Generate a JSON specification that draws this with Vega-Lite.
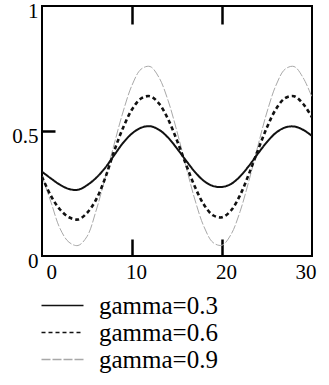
{
  "$schema": "https://vega.github.io/schema/vega-lite/v6.json",
  "autosize": "none",
  "width": 270,
  "height": 250,
  "padding": {"left": 42, "top": 6, "right": 17, "bottom": 129},
  "background": "white",
  "config": {
    "view": {"stroke": "black", "strokeWidth": 2},
    "axis": {
      "labelFont": "Liberation Serif, Times New Roman, serif",
      "labelFontSize": 21,
      "labelColor": "black",
      "domain": false,
      "grid": false,
      "tickColor": "#000000",
      "tickWidth": 2.5,
      "title": null
    }
  },
  "resolve": {"axis": {"x": "independent", "y": "independent"}},
  "data": {
    "values": [
      {"t": 0, "y": 0.337, "s": "gamma=0.3"},
      {"t": 1, "y": 0.31, "s": "gamma=0.3"},
      {"t": 2, "y": 0.285, "s": "gamma=0.3"},
      {"t": 3, "y": 0.268, "s": "gamma=0.3"},
      {"t": 4, "y": 0.265, "s": "gamma=0.3"},
      {"t": 5, "y": 0.283, "s": "gamma=0.3"},
      {"t": 6, "y": 0.312, "s": "gamma=0.3"},
      {"t": 7, "y": 0.352, "s": "gamma=0.3"},
      {"t": 8, "y": 0.402, "s": "gamma=0.3"},
      {"t": 9, "y": 0.452, "s": "gamma=0.3"},
      {"t": 10, "y": 0.49, "s": "gamma=0.3"},
      {"t": 11, "y": 0.513, "s": "gamma=0.3"},
      {"t": 12, "y": 0.519, "s": "gamma=0.3"},
      {"t": 13, "y": 0.505, "s": "gamma=0.3"},
      {"t": 14, "y": 0.474, "s": "gamma=0.3"},
      {"t": 15, "y": 0.43, "s": "gamma=0.3"},
      {"t": 16, "y": 0.382, "s": "gamma=0.3"},
      {"t": 17, "y": 0.336, "s": "gamma=0.3"},
      {"t": 18, "y": 0.3, "s": "gamma=0.3"},
      {"t": 19, "y": 0.28, "s": "gamma=0.3"},
      {"t": 20, "y": 0.276, "s": "gamma=0.3"},
      {"t": 21, "y": 0.288, "s": "gamma=0.3"},
      {"t": 22, "y": 0.318, "s": "gamma=0.3"},
      {"t": 23, "y": 0.361, "s": "gamma=0.3"},
      {"t": 24, "y": 0.41, "s": "gamma=0.3"},
      {"t": 25, "y": 0.456, "s": "gamma=0.3"},
      {"t": 26, "y": 0.493, "s": "gamma=0.3"},
      {"t": 27, "y": 0.514, "s": "gamma=0.3"},
      {"t": 28, "y": 0.518, "s": "gamma=0.3"},
      {"t": 29, "y": 0.505, "s": "gamma=0.3"},
      {"t": 30, "y": 0.48, "s": "gamma=0.3"},
      {"t": 0, "y": 0.317, "s": "gamma=0.6"},
      {"t": 1, "y": 0.24, "s": "gamma=0.6"},
      {"t": 2, "y": 0.186, "s": "gamma=0.6"},
      {"t": 3, "y": 0.155, "s": "gamma=0.6"},
      {"t": 4, "y": 0.146, "s": "gamma=0.6"},
      {"t": 5, "y": 0.172, "s": "gamma=0.6"},
      {"t": 6, "y": 0.225, "s": "gamma=0.6"},
      {"t": 7, "y": 0.31, "s": "gamma=0.6"},
      {"t": 8, "y": 0.418, "s": "gamma=0.6"},
      {"t": 9, "y": 0.512, "s": "gamma=0.6"},
      {"t": 10, "y": 0.586, "s": "gamma=0.6"},
      {"t": 11, "y": 0.63, "s": "gamma=0.6"},
      {"t": 12, "y": 0.639, "s": "gamma=0.6"},
      {"t": 13, "y": 0.61, "s": "gamma=0.6"},
      {"t": 14, "y": 0.548, "s": "gamma=0.6"},
      {"t": 15, "y": 0.462, "s": "gamma=0.6"},
      {"t": 16, "y": 0.366, "s": "gamma=0.6"},
      {"t": 17, "y": 0.276, "s": "gamma=0.6"},
      {"t": 18, "y": 0.205, "s": "gamma=0.6"},
      {"t": 19, "y": 0.163, "s": "gamma=0.6"},
      {"t": 20, "y": 0.155, "s": "gamma=0.6"},
      {"t": 21, "y": 0.182, "s": "gamma=0.6"},
      {"t": 22, "y": 0.243, "s": "gamma=0.6"},
      {"t": 23, "y": 0.329, "s": "gamma=0.6"},
      {"t": 24, "y": 0.424, "s": "gamma=0.6"},
      {"t": 25, "y": 0.515, "s": "gamma=0.6"},
      {"t": 26, "y": 0.588, "s": "gamma=0.6"},
      {"t": 27, "y": 0.631, "s": "gamma=0.6"},
      {"t": 28, "y": 0.639, "s": "gamma=0.6"},
      {"t": 29, "y": 0.609, "s": "gamma=0.6"},
      {"t": 30, "y": 0.555, "s": "gamma=0.6"},
      {"t": 0, "y": 0.32, "s": "gamma=0.9"},
      {"t": 1, "y": 0.215, "s": "gamma=0.9"},
      {"t": 2, "y": 0.11, "s": "gamma=0.9"},
      {"t": 3, "y": 0.055, "s": "gamma=0.9"},
      {"t": 4, "y": 0.042, "s": "gamma=0.9"},
      {"t": 5, "y": 0.078, "s": "gamma=0.9"},
      {"t": 6, "y": 0.18, "s": "gamma=0.9"},
      {"t": 7, "y": 0.31, "s": "gamma=0.9"},
      {"t": 8, "y": 0.445, "s": "gamma=0.9"},
      {"t": 9, "y": 0.576, "s": "gamma=0.9"},
      {"t": 10, "y": 0.683, "s": "gamma=0.9"},
      {"t": 11, "y": 0.747, "s": "gamma=0.9"},
      {"t": 12, "y": 0.758, "s": "gamma=0.9"},
      {"t": 13, "y": 0.714, "s": "gamma=0.9"},
      {"t": 14, "y": 0.623, "s": "gamma=0.9"},
      {"t": 15, "y": 0.498, "s": "gamma=0.9"},
      {"t": 16, "y": 0.358, "s": "gamma=0.9"},
      {"t": 17, "y": 0.224, "s": "gamma=0.9"},
      {"t": 18, "y": 0.117, "s": "gamma=0.9"},
      {"t": 19, "y": 0.054, "s": "gamma=0.9"},
      {"t": 20, "y": 0.043, "s": "gamma=0.9"},
      {"t": 21, "y": 0.086, "s": "gamma=0.9"},
      {"t": 22, "y": 0.177, "s": "gamma=0.9"},
      {"t": 23, "y": 0.302, "s": "gamma=0.9"},
      {"t": 24, "y": 0.442, "s": "gamma=0.9"},
      {"t": 25, "y": 0.576, "s": "gamma=0.9"},
      {"t": 26, "y": 0.683, "s": "gamma=0.9"},
      {"t": 27, "y": 0.747, "s": "gamma=0.9"},
      {"t": 28, "y": 0.758, "s": "gamma=0.9"},
      {"t": 29, "y": 0.714, "s": "gamma=0.9"},
      {"t": 30, "y": 0.635, "s": "gamma=0.9"}
    ]
  },
  "encoding": {
    "x": {
      "field": "t", "type": "quantitative",
      "scale": {"domain": [0, 30], "nice": false}
    },
    "y": {
      "field": "y", "type": "quantitative",
      "scale": {"domain": [0, 1], "nice": false}
    },
    "color": {
      "field": "s", "type": "nominal",
      "scale": {
        "domain": ["gamma=0.3", "gamma=0.6", "gamma=0.9"],
        "range": ["#111111", "#111111", "#a8a8a8"]
      },
      "legend": {
        "title": null,
        "orient": "none",
        "legendX": 8,
        "legendY": 287,
        "symbolType": "M-2,0H2",
        "symbolSize": 441,
        "symbolStrokeWidth": 1.6,
        "labelFont": "Liberation Serif, Times New Roman, serif",
        "labelFontSize": 25,
        "labelColor": "black",
        "labelOffset": 24,
        "rowPadding": 1
      }
    },
    "strokeDash": {
      "field": "s", "type": "nominal",
      "scale": {
        "domain": ["gamma=0.3", "gamma=0.6", "gamma=0.9"],
        "range": [[1, 0], [4, 3], [9, 2]]
      }
    }
  },
  "layer": [
    {
      "transform": [{"filter": "datum.s == 'gamma=0.9'"}],
      "mark": {"type": "line", "interpolate": "catmull-rom", "clip": true, "strokeWidth": 1},
      "encoding": {
        "x": {
          "field": "t", "type": "quantitative",
          "axis": {
            "orient": "bottom", "values": [0, 10, 20, 30],
            "ticks": false, "labelPadding": 5, "labelOffset": 4
          }
        },
        "y": {
          "field": "y", "type": "quantitative",
          "axis": {
            "orient": "left", "values": [0, 0.5, 1], "format": "~g",
            "ticks": false, "labelPadding": 4,
            "labelBaseline": "alphabetic", "labelOffset": 11
          }
        }
      }
    },
    {
      "transform": [{"filter": "datum.s == 'gamma=0.6'"}],
      "mark": {"type": "line", "interpolate": "catmull-rom", "clip": true, "strokeWidth": 2.6},
      "encoding": {
        "x": {"field": "t", "type": "quantitative", "axis": null},
        "y": {"field": "y", "type": "quantitative", "axis": null}
      }
    },
    {
      "transform": [{"filter": "datum.s == 'gamma=0.3'"}],
      "mark": {"type": "line", "interpolate": "catmull-rom", "clip": true, "strokeWidth": 2},
      "encoding": {
        "x": {"field": "t", "type": "quantitative", "axis": null},
        "y": {"field": "y", "type": "quantitative", "axis": null}
      }
    },
    {
      "mark": {"type": "rule", "opacity": 0},
      "encoding": {
        "x": {
          "datum": 0, "type": "quantitative",
          "axis": {
            "orient": "top", "offset": -250, "values": [10, 20],
            "labels": false, "tickSize": 17
          }
        },
        "y": {
          "datum": 0, "type": "quantitative",
          "axis": {
            "orient": "right", "offset": -270, "values": [0.5],
            "labels": false, "tickSize": 13
          }
        },
        "color": {"value": "black"},
        "strokeDash": {"value": [1, 0]}
      }
    },
    {
      "mark": {"type": "rule", "opacity": 0},
      "encoding": {
        "x": {
          "datum": 0, "type": "quantitative",
          "axis": {
            "orient": "bottom", "offset": -250, "values": [10, 20],
            "labels": false, "tickSize": 18
          }
        },
        "y": {"value": 0},
        "color": {"value": "black"},
        "strokeDash": {"value": [1, 0]}
      }
    }
  ]
}
